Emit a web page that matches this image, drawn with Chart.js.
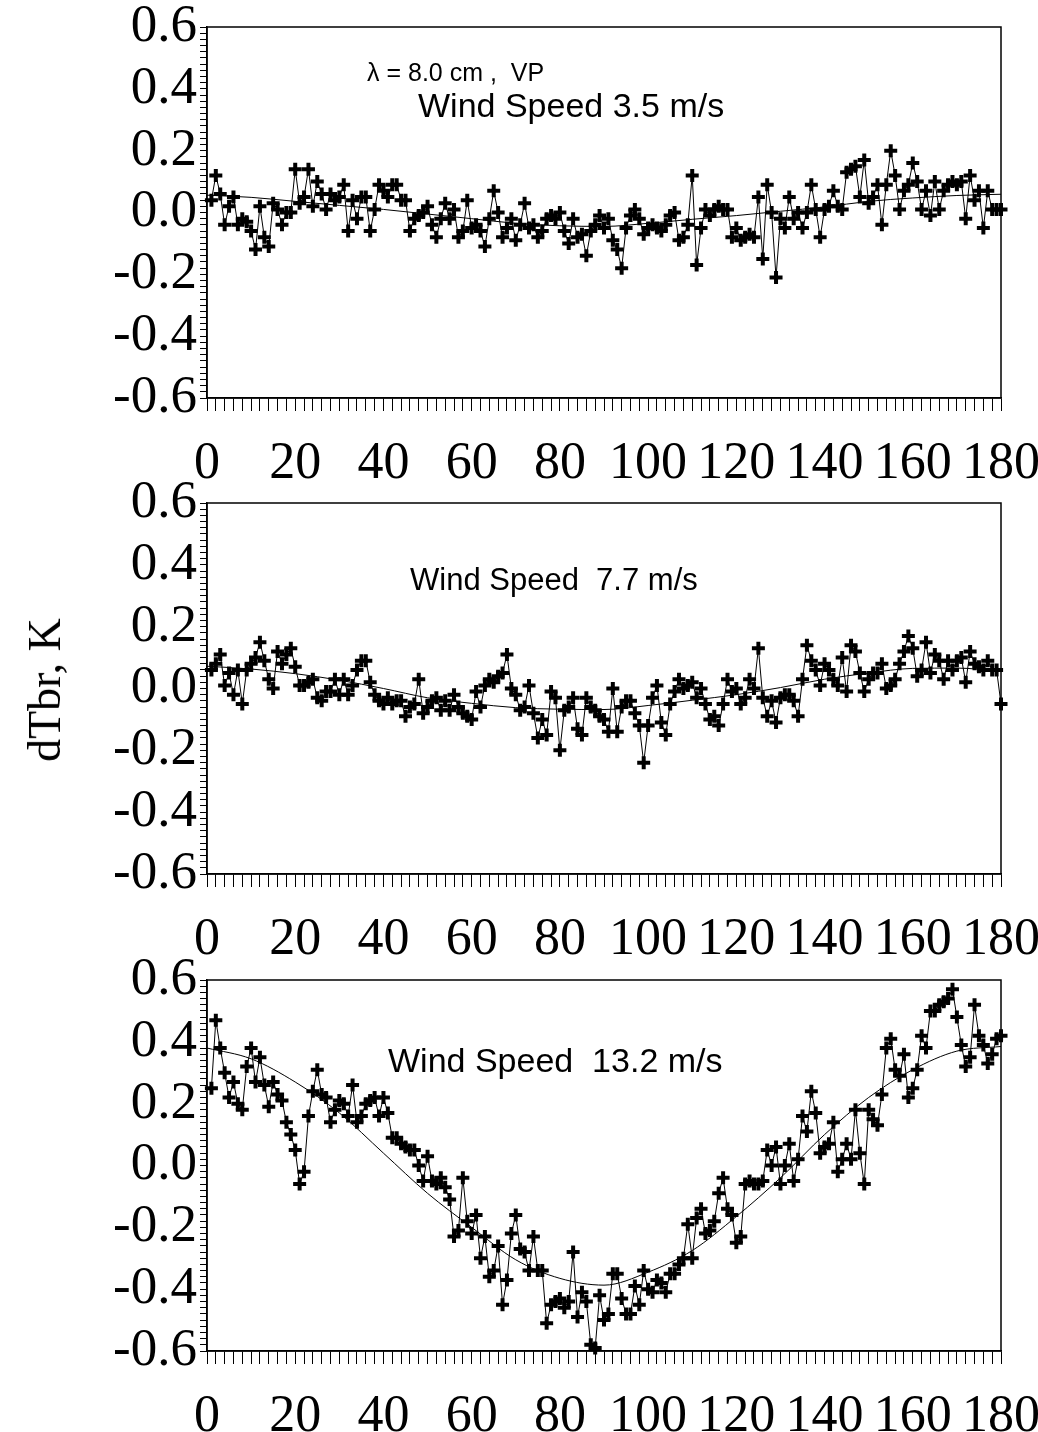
<!DOCTYPE html>
<html>
<head>
<meta charset="utf-8">
<script src="https://cdn.jsdelivr.net/npm/chart.js@4/dist/chart.umd.min.js"></script>
<style>
html, body { margin: 0; padding: 0; background: #fff; }
body { width: 1038px; height: 1432px; position: relative; overflow: hidden; }
canvas { position: absolute; left: 0; }
.note { position: absolute; font-family: 'Liberation Sans', Arial, sans-serif; font-size: 34px; line-height: 1; color: #000; white-space: pre; }
#ytitle { position: absolute; left: 45px; top: 690px; font-family: 'Liberation Serif', 'Times New Roman', serif; font-size: 46px; line-height: 1; white-space: nowrap; transform: translate(-50%, -50%) rotate(-90deg); }
</style>
</head>
<body>
<canvas id="c1" width="1038" height="480" style="top:0px"></canvas>
<canvas id="c2" width="1038" height="480" style="top:476px"></canvas>
<canvas id="c3" width="1038" height="480" style="top:953px"></canvas>
<div class="note" style="left:367px; top:60px; font-size:25px;">&lambda; = 8.0 cm ,  VP</div>
<div class="note" style="left:418px; top:88px;">Wind Speed 3.5 m/s</div>
<div class="note" style="left:410px; top:564px; font-size:31px;">Wind Speed  7.7 m/s</div>
<div class="note" style="left:388px; top:1043px;">Wind Speed  13.2 m/s</div>
<div id="ytitle">dTbr, K</div>
<script>
// angle of each measurement, deg
var angles = [];
for (var a = 1; a <= 180; a++) {
	angles.push(a);
}

// wind speed 3.5 m/s
var dTbr35 = [
	0.04, 0.12, 0.06, -0.04, 0.02, 0.05, -0.04, -0.02, -0.03, -0.06,
	-0.12, 0.02, -0.08, -0.11, 0.03, 0.01, -0.04, 0.00, 0.00, 0.14,
	0.03, 0.05, 0.14, 0.02, 0.10, 0.06, 0.01, 0.06, 0.04, 0.05,
	0.09, -0.06, 0.04, -0.02, 0.05, 0.05, -0.06, 0.01, 0.09, 0.07,
	0.05, 0.09, 0.09, 0.04, 0.04, -0.06, -0.02, -0.01, 0.00, 0.02,
	-0.04, -0.08, -0.02, 0.03, -0.02, 0.01, -0.08, -0.06, 0.04, -0.05,
	-0.04, -0.06, -0.11, -0.02, 0.07, 0.00, -0.08, -0.05, -0.02, -0.09,
	-0.04, 0.03, -0.05, -0.04, -0.08, -0.06, -0.02, -0.01, -0.02, 0.00,
	-0.06, -0.10, -0.02, -0.08, -0.07, -0.14, -0.06, -0.04, -0.01, -0.05,
	-0.02, -0.09, -0.12, -0.18, -0.05, -0.01, 0.01, -0.02, -0.07, -0.05,
	-0.04, -0.05, -0.06, -0.04, -0.01, 0.00, -0.09, -0.08, -0.04, 0.12,
	-0.17, -0.05, 0.01, -0.01, 0.01, 0.02, 0.01, 0.01, -0.08, -0.05,
	-0.09, -0.08, -0.07, -0.08, 0.05, -0.15, 0.09, 0.00, -0.21, -0.02,
	-0.05, 0.05, -0.02, 0.00, -0.05, 0.00, 0.09, 0.01, -0.08, 0.01,
	0.02, 0.07, 0.02, 0.01, 0.13, 0.14, 0.15, 0.05, 0.17, 0.03,
	0.05, 0.09, -0.04, 0.09, 0.20, 0.12, 0.01, 0.07, 0.09, 0.16,
	0.10, 0.01, 0.07, -0.01, 0.10, 0.01, 0.07, 0.09, 0.10, 0.09,
	0.10, -0.02, 0.12, 0.04, 0.07, -0.05, 0.07, 0.01, 0.01, 0.01
];

// wind speed 7.7 m/s
var dTbr77 = [
	0.06, 0.08, 0.11, 0.01, 0.05, -0.02, 0.06, -0.05, 0.06, 0.08,
	0.10, 0.15, 0.09, 0.03, 0.00, 0.12, 0.08, 0.11, 0.13, 0.07,
	0.01, 0.01, 0.02, 0.03, -0.03, -0.04, -0.01, -0.01, 0.03, -0.02,
	0.03, -0.02, 0.01, 0.06, 0.09, 0.09, 0.02, -0.02, -0.04, -0.05,
	-0.03, -0.05, -0.04, -0.04, -0.09, -0.06, -0.05, 0.03, -0.08, -0.06,
	-0.04, -0.03, -0.07, -0.04, -0.07, -0.02, -0.06, -0.08, -0.09, -0.10,
	-0.01, -0.06, 0.01, 0.03, 0.02, 0.04, 0.05, 0.11, 0.00, -0.02,
	-0.07, -0.06, 0.01, -0.08, -0.16, -0.10, -0.15, -0.01, -0.03, -0.20,
	-0.07, -0.06, -0.03, -0.13, -0.15, -0.03, -0.06, -0.07, -0.09, -0.10,
	-0.14, 0.00, -0.14, -0.06, -0.04, -0.04, -0.08, -0.12, -0.24, -0.12,
	-0.03, 0.01, -0.11, -0.15, -0.05, -0.01, 0.03, 0.00, 0.01, 0.02,
	-0.03, 0.00, -0.05, -0.10, -0.09, -0.12, -0.05, 0.03, -0.01, 0.00,
	-0.05, -0.03, 0.03, 0.00, 0.13, -0.03, -0.09, -0.04, -0.11, -0.03,
	-0.02, -0.02, -0.04, -0.09, 0.03, 0.14, 0.09, 0.06, 0.01, 0.08,
	0.06, 0.03, 0.01, 0.10, -0.01, 0.14, 0.12, 0.05, -0.01, 0.03,
	0.05, 0.05, 0.08, 0.00, 0.01, 0.03, 0.08, 0.12, 0.17, 0.13,
	0.04, 0.06, 0.15, 0.05, 0.11, 0.09, 0.03, 0.09, 0.06, 0.09,
	0.10, 0.02, 0.12, 0.08, 0.07, 0.06, 0.09, 0.06, 0.06, -0.05
];

// wind speed 13.2 m/s
var dTbr132 = [
	0.25, 0.47, 0.38, 0.30, 0.22, 0.27, 0.20, 0.18, 0.32, 0.38,
	0.27, 0.35, 0.26, 0.19, 0.27, 0.23, 0.21, 0.14, 0.10, 0.05,
	-0.06, -0.02, 0.16, 0.24, 0.31, 0.23, 0.22, 0.14, 0.18, 0.21,
	0.20, 0.16, 0.26, 0.14, 0.16, 0.20, 0.21, 0.22, 0.16, 0.22,
	0.17, 0.09, 0.09, 0.07, 0.06, 0.05, 0.05, 0.00, -0.05, 0.03,
	-0.05, -0.06, -0.04, -0.07, -0.11, -0.23, -0.21, -0.04, -0.18, -0.22,
	-0.16, -0.30, -0.23, -0.36, -0.34, -0.26, -0.45, -0.37, -0.22, -0.16,
	-0.27, -0.28, -0.34, -0.23, -0.34, -0.34, -0.51, -0.45, -0.44, -0.43,
	-0.46, -0.44, -0.28, -0.49, -0.41, -0.44, -0.58, -0.59, -0.42, -0.50,
	-0.48, -0.35, -0.35, -0.43, -0.48, -0.48, -0.39, -0.45, -0.34, -0.40,
	-0.41, -0.37, -0.38, -0.41, -0.35, -0.35, -0.32, -0.30, -0.19, -0.30,
	-0.17, -0.14, -0.22, -0.21, -0.18, -0.09, -0.04, -0.14, -0.16, -0.25,
	-0.23, -0.06, -0.05, -0.06, -0.06, -0.05, 0.05, 0.00, 0.06, -0.06,
	0.00, 0.07, -0.05, 0.02, 0.16, 0.11, 0.24, 0.17, 0.04, 0.06,
	0.07, 0.14, -0.02, 0.02, 0.07, 0.02, 0.18, 0.04, -0.06, 0.18,
	0.15, 0.13, 0.23, 0.38, 0.41, 0.31, 0.29, 0.36, 0.22, 0.25,
	0.31, 0.42, 0.38, 0.50, 0.50, 0.52, 0.53, 0.54, 0.57, 0.48,
	0.39, 0.32, 0.35, 0.52, 0.42, 0.39, 0.33, 0.36, 0.41, 0.42
];

// smooth fit curves, read every 10 deg
var fitAngles = [0, 10, 20, 30, 40, 50, 60, 70, 80, 90, 100, 110, 120, 130, 140, 150, 160, 170, 180];
var fit35 = [0.056, 0.049, 0.036, 0.023, 0.010, -0.005, -0.020, -0.035, -0.043, -0.045, -0.035, -0.022, -0.010, 0.004, 0.018, 0.036, 0.047, 0.055, 0.059];
var fit77 = [0.072, 0.063, 0.048, 0.027, 0.000, -0.030, -0.048, -0.062, -0.067, -0.068, -0.055, -0.038, -0.020, 0.003, 0.030, 0.050, 0.065, 0.066, 0.056];
var fit132 = [0.38, 0.345, 0.27, 0.17, 0.04, -0.09, -0.20, -0.305, -0.365, -0.387, -0.345, -0.275, -0.165, -0.04, 0.10, 0.22, 0.31, 0.37, 0.385];

var xTicks = { min: 0, max: 180, step: 2, labelEvery: 20 };
var yTicks = { min: -0.6, max: 0.6, step: 0.02, labelEvery: 0.2 };

(function () {

var serif = "'Liberation Serif', 'Times New Roman', serif";

// box around the plot area
var framePlugin = {
	id: 'frame',
	afterDraw: function (chart) {
		var area = chart.chartArea;
		var ctx = chart.ctx;
		ctx.save();
		ctx.strokeStyle = '#000';
		ctx.lineWidth = 1.5;
		ctx.strokeRect(area.left, area.top, area.right - area.left, area.bottom - area.top);
		ctx.restore();
	}
};

function toPoints(xs, ys) {
	var list = [];
	for (var i = 0, len = ys.length; i < len; i++) {
		list.push({ x: xs[i], y: ys[i] });
	}
	return list;
}

function drawPanel(id, values, fit) {
	new Chart(document.getElementById(id), {
		type: 'line',
		data: {
			datasets: [{
				data: toPoints(angles, values),
				borderColor: '#000',
				borderWidth: 1,
				pointStyle: 'cross',
				pointRadius: 6.5,
				pointBorderWidth: 4,
				pointBorderColor: '#000',
				pointBackgroundColor: '#000',
				tension: 0,
				clip: false
			}, {
				data: toPoints(fitAngles, fit),
				borderColor: '#000',
				borderWidth: 1,
				pointRadius: 0,
				cubicInterpolationMode: 'monotone'
			}]
		},
		options: {
			responsive: false,
			animation: false,
			events: [],
			layout: { padding: { top: 27, right: 37, left: 0, bottom: 0 } },
			plugins: { legend: { display: false }, tooltip: { enabled: false } },
			scales: {
				x: {
					type: 'linear',
					min: xTicks.min,
					max: xTicks.max,
					ticks: {
						stepSize: xTicks.step,
						autoSkip: false,
						maxRotation: 0,
						color: '#000',
						padding: 22,
						font: { family: serif, size: 52 },
						callback: function (v) {
							return v % xTicks.labelEvery === 0 ? String(v) : '';
						}
					},
					grid: { drawOnChartArea: false, tickLength: 13, color: '#000', lineWidth: 1 },
					border: { display: true, color: '#000', width: 1.5 },
					afterFit: function (s) {
						s.height = 82;
						s.paddingLeft = 0;
						s.paddingRight = 0;
					}
				},
				y: {
					min: yTicks.min,
					max: yTicks.max,
					ticks: {
						stepSize: yTicks.step,
						autoSkip: false,
						color: '#000',
						padding: 3,
						font: { family: serif, size: 53 },
						callback: function (v) {
							var k = Math.round(v / yTicks.step);
							var every = Math.round(yTicks.labelEvery / yTicks.step);
							if (k % every !== 0) {
								return '';
							}
							return (k === 0 ? 0 : v).toFixed(1);
						}
					},
					grid: { drawOnChartArea: false, tickLength: 7, color: '#000', lineWidth: 1 },
					border: { display: true, color: '#000', width: 1.5 },
					afterFit: function (s) {
						s.width = 207;
						s.paddingTop = 0;
						s.paddingBottom = 0;
					}
				}
			}
		},
		plugins: [framePlugin]
	});
}

drawPanel('c1', dTbr35, fit35);
drawPanel('c2', dTbr77, fit77);
drawPanel('c3', dTbr132, fit132);

}());
</script>
</body>
</html>
